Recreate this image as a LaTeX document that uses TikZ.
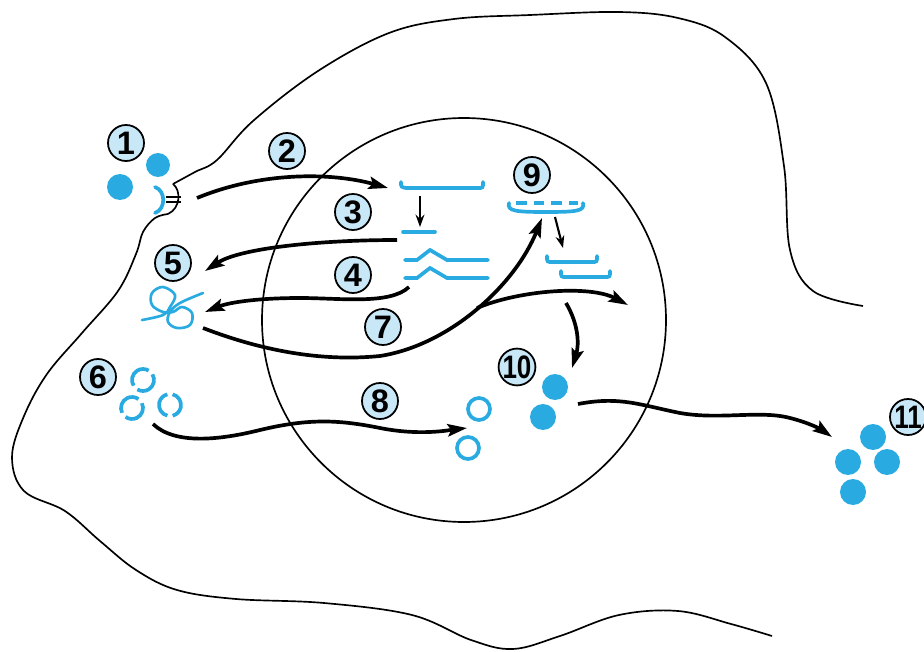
\documentclass[tikz,border=0pt]{standalone}
\usepackage{fontspec}
\setsansfont{Liberation Sans}
\usetikzlibrary{arrows.meta}
\definecolor{dna}{RGB}{41,171,226}
\definecolor{tag}{RGB}{200,232,248}

\begin{document}
\begin{tikzpicture}[x=0.02cm, y=-0.02cm,
    >={Stealth[length=11pt, width=7pt, inset=2pt]},
    num/.style={circle, draw, fill=tag, line width=1pt, minimum size=20.5pt, inner sep=0pt,
      font=\sffamily\bfseries\fontsize{18.5}{18.5}\selectfont},
    flow/.style={->, line width=2.1pt},
    tick/.style={-{Stealth[length=7pt, width=5pt]}, line width=1.2pt},
    strand/.style={dna, line width=2.1pt, line cap=round},
    blob/.style={fill=dna},
    wall/.style={line width=0.95pt}]
    \useasboundingbox (0,0) rectangle (924,652);

    % cell membrane, with the receptor pit
    \draw[wall] plot[smooth, tension=0.6] coordinates {(863,306) (813,291) (790,250) (784,166)
        (766,83) (725,37) (678,18) (619,12) (530,15) (454,19) (389,33) (318,71) (253,121)
        (217,160) (195,172) (173,184)};
    \draw[wall] (173,184) .. controls (181,190) and (181,208) .. (168,214);
    \draw[wall] plot[smooth, tension=0.6] coordinates {(168,214) (155,218) (143,232) (136,254)
        (118,291) (82,333) (47,374) (24,416) (12,457) (24,491) (65,511) (100,541) (136,570)
        (177,590) (236,599) (324,603) (412,615) (471,640) (513,649) (560,636) (619,615)
        (678,611) (731,624) (772,636)};

    % nucleus
    \draw[wall] (464,320) circle[radius=202];

    % hormone and receptor
    \fill[blob] (158,165) circle[radius=12];
    \fill[blob] (120,187) circle[radius=13];
    \draw[strand] (155,187) .. controls (166,191) and (166,209) .. (155,213);
    \draw[line width=1pt] (166,197) -- (181,197) (166,202) -- (181,202);

    % transcript
    \draw[strand] (401,182) .. controls (401,187) .. (406,188) -- (478,188)
        .. controls (483,188) .. (483,182);
    \draw[strand] (403,232) -- (435,232);
    \draw[strand] (405,260) -- (417,260) -- (430,250) -- (447,260) -- (488,260);
    \draw[strand] (405,278) -- (417,278) -- (430,268) -- (447,278) -- (488,278);
    \coordinate (pretop) at (420,196);
    \coordinate (prebot) at (420,227);
    \draw[tick] (pretop) -- (prebot);

    % ribosome and peptides
    \draw[strand] (509,203) .. controls (507,211) and (515,212) .. (546,212)
        .. controls (577,212) and (585,211) .. (583,203);
    \draw[strand, line cap=butt, dash pattern=on 6pt off 4pt] (516,203) -- (578,203);
    \coordinate (ribo) at (555,217);
    \coordinate (pep) at (563,248);
    \draw[tick] (ribo) -- (pep);
    \draw[strand] (547,256) .. controls (547,262) .. (552,262) -- (592,262)
        .. controls (597,262) .. (597,256);
    \draw[strand] (561,271) .. controls (561,277) .. (566,277) -- (605,277)
        .. controls (610,277) .. (610,271);

    % tangled strand
    \draw[strand, line width=1.5pt] plot[smooth, tension=0.6] coordinates {(142,320) (163,315)
        (170,307) (175,295) (163,287) (152,293) (152,305) (163,312) (173,312) (182,307)
        (192,313) (190,325) (177,328) (168,322) (170,312) (180,303) (203,293)};

    % broken rings
    \foreach \cx/\cy/\r in {143/380/-45, 132/408/-40, 170/405/90} {
        \draw[strand, line cap=butt] (\cx,\cy) ++(\r+14:11) arc[start angle=\r+14, end angle=\r+166, radius=11];
        \draw[strand, line cap=butt] (\cx,\cy) ++(\r+194:11) arc[start angle=\r+194, end angle=\r+346, radius=11];
    }

    % open and filled products
    \draw[strand] (479,409) circle[radius=11];
    \draw[strand] (468,448) circle[radius=11];
    \fill[blob] (555,387) circle[radius=13];
    \fill[blob] (543,417) circle[radius=13];
    \foreach \px/\py in {873/437, 848/462, 887/462, 853/492}
        \fill[blob] (\px,\py) circle[radius=13];

    % labels
    \node[num] (n1) at (126,143) {1};
    \node[num] (n2) at (287,151) {2};
    \node[num] (n3) at (353,212) {3};
    \node[num] (n4) at (353,275) {4};
    \node[num] (n5) at (173,263) {5};
    \node[num] (n6) at (98,377) {6};
    \node[num] (n7) at (383,327) {7};
    \node[num] (n8) at (380,401) {8};
    \node[num] (n9) at (532,175) {9};
    \node[num] (n10) at (517,367) {\scalebox{0.8}[1]{10}};
    \node[num] (n11) at (908,417) {\scalebox{0.8}[1]{11}};

    % ends of the pathways
    \coordinate (recep) at (197,198);
    \coordinate (prem) at (388,188);
    \coordinate (mrna) at (397,240);
    \coordinate (spl) at (409,287);
    \coordinate (knotA) at (205,271);
    \coordinate (knotB) at (205,312);
    \coordinate (knotC) at (203,328);
    \coordinate (ribin) at (542,218);
    \coordinate (fork) at (477,308);
    \coordinate (away) at (628,305);
    \coordinate (fold) at (566,303);
    \coordinate (fill) at (572,368);
    \coordinate (ring) at (153,424);
    \coordinate (ringin) at (467,428);
    \coordinate (outA) at (578,404);
    \coordinate (outB) at (832,437);

    \draw[flow] (recep) .. controls (260,172) and (330,172) .. (prem);
    \draw[flow] (mrna) .. controls (320,240) and (240,248) .. (knotA);
    \draw[flow] (spl) .. controls (390,305) and (340,298) .. (300,298)
        .. controls (260,298) and (230,302) .. (knotB);
    \draw[flow] (knotC) .. controls (260,350) and (320,362) .. (380,356)
        .. controls (450,345) and (515,285) .. (ribin);
    \draw[flow] (fork) .. controls (520,290) and (590,285) .. (away);
    \draw[flow] (fold) .. controls (579,325) and (579,345) .. (fill);
    \draw[flow] (ring) .. controls (175,445) and (220,440) .. (260,430)
        .. controls (310,418) and (340,420) .. (380,428)
        .. controls (420,436) and (450,430) .. (ringin);
    \draw[flow] (outA) .. controls (620,396) and (640,405) .. (680,413)
        .. controls (720,420) and (760,410) .. (790,418)
        .. controls (810,423) and (822,430) .. (outB);
\end{tikzpicture}
\end{document}
